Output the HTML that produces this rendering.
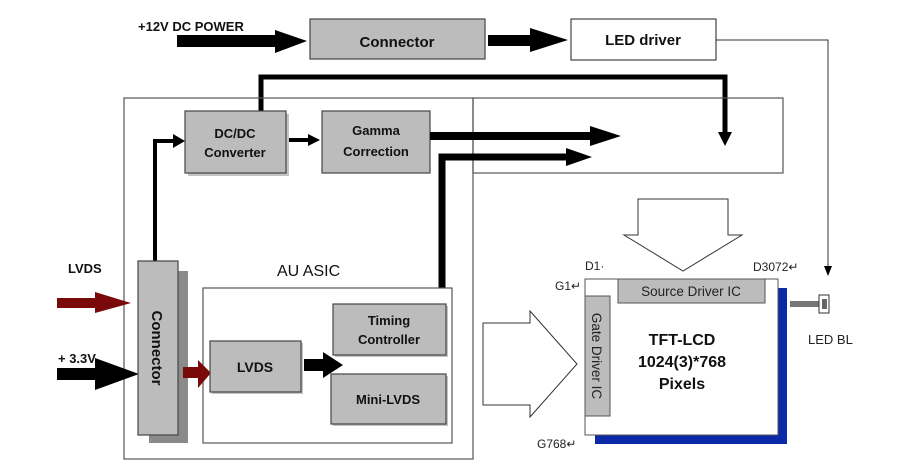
<!DOCTYPE html>
<html><head><meta charset="utf-8"><style>
html,body{margin:0;padding:0;background:#fff;}
svg{display:block;}
text{font-family:"Liberation Sans",Arial,sans-serif;}
.b{font-weight:bold;fill:#111;}
</style></head><body>
<svg width="900" height="474" viewBox="0 0 900 474" xmlns="http://www.w3.org/2000/svg">
<rect width="900" height="474" fill="#fff"/>
<!-- top row -->
<text x="138" y="31" class="b" font-size="13">+12V DC POWER</text>
<polygon points="177,35 275,35 275,30 307,41 275,53 275,47 177,47" fill="#000"/>
<rect x="310" y="19" width="175" height="40" fill="#bcbcbc" stroke="#444" stroke-width="1.2"/>
<text x="397" y="47" class="b" font-size="15" text-anchor="middle">Connector</text>
<polygon points="488,35 530,35 530,28 568,40 530,52 530,46 488,46" fill="#000"/>
<rect x="571" y="19" width="145" height="41" fill="#fff" stroke="#444" stroke-width="1.2"/>
<text x="643" y="45" class="b" font-size="15" text-anchor="middle">LED driver</text>
<polyline points="716,40 828,40 828,268" fill="none" stroke="#333" stroke-width="1"/>
<polygon points="824,266 832,266 828,276" fill="#000"/>
<!-- thick line from DC/DC -->
<polyline points="261,111 261,77 725,77 725,134" fill="none" stroke="#000" stroke-width="5"/>
<polygon points="718,132 732,132 725,146" fill="#000"/>
<!-- outer boxes -->
<rect x="124" y="98" width="349" height="361" fill="none" stroke="#555" stroke-width="1.2"/>
<rect x="473" y="98" width="310" height="75" fill="none" stroke="#555" stroke-width="1.2"/>
<!-- DC/DC -->
<rect x="188" y="114" width="101" height="62" fill="#888" opacity="0.5"/>
<rect x="185" y="111" width="101" height="62" fill="#bcbcbc" stroke="#444" stroke-width="1.2"/>
<text x="235" y="138" class="b" font-size="13" text-anchor="middle">DC/DC</text>
<text x="235" y="157" class="b" font-size="13" text-anchor="middle">Converter</text>
<rect x="322" y="111" width="108" height="62" fill="#bcbcbc" stroke="#444" stroke-width="1.2"/>
<text x="376" y="135" class="b" font-size="13" text-anchor="middle">Gamma</text>
<text x="376" y="156" class="b" font-size="13" text-anchor="middle">Correction</text>
<polygon points="289,138 308,138 308,134 320,140 308,146 308,142 289,142" fill="#000"/>
<!-- connector to DC/DC -->
<polyline points="155,261 155,141 175,141" fill="none" stroke="#000" stroke-width="4"/>
<polygon points="173,134 185,141 173,148" fill="#000"/>
<!-- gamma arrows -->
<rect x="430" y="132" width="162" height="8" fill="#000"/>
<polygon points="590,126 621,136 590,146" fill="#000"/>
<polyline points="442,288 442,157 568,157" fill="none" stroke="#000" stroke-width="7"/>
<polygon points="566,148 592,157 566,166" fill="#000"/>
<!-- left inputs -->
<text x="68" y="273" class="b" font-size="13">LVDS</text>
<polygon points="57,298 95,298 95,292 131,303 95,313 95,308 57,308" fill="#7a0a0a"/>
<text x="58" y="363" class="b" font-size="13">+ 3.3V</text>
<polygon points="57,368 95,368 95,358 139,374 95,390 95,380 57,380" fill="#000"/>
<!-- vertical connector -->
<rect x="149" y="271" width="39" height="172" fill="#8a8a8a"/>
<rect x="138" y="261" width="40" height="174" fill="#bcbcbc" stroke="#444" stroke-width="1.2"/>
<text transform="translate(152,348) rotate(90)" class="b" font-size="15" text-anchor="middle">Connector</text>
<!-- ASIC -->
<text x="277" y="276" font-size="16" fill="#111">AU ASIC</text>
<rect x="203" y="288" width="249" height="155" fill="#fff" stroke="#555" stroke-width="1.2"/>
<polygon points="183,367 198,367 198,360 211,373 198,388 198,378 183,378" fill="#7a0a0a"/>
<rect x="212" y="343" width="91" height="51" fill="#888" opacity="0.5"/>
<rect x="210" y="341" width="91" height="51" fill="#bcbcbc" stroke="#444" stroke-width="1.2"/>
<text x="255" y="372" class="b" font-size="14" text-anchor="middle">LVDS</text>
<polygon points="304,359 323,359 323,352 343,365 323,378 323,371 304,371" fill="#000"/>
<rect x="335" y="306" width="113" height="51" fill="#888" opacity="0.5"/>
<rect x="333" y="304" width="113" height="51" fill="#bcbcbc" stroke="#444" stroke-width="1.2"/>
<text x="389" y="325" class="b" font-size="13" text-anchor="middle">Timing</text>
<text x="389" y="344" class="b" font-size="13" text-anchor="middle">Controller</text>
<rect x="333" y="376" width="115" height="50" fill="#888" opacity="0.5"/>
<rect x="331" y="374" width="115" height="50" fill="#bcbcbc" stroke="#444" stroke-width="1.2"/>
<text x="388" y="404" class="b" font-size="13" text-anchor="middle">Mini-LVDS</text>
<!-- hollow arrows -->
<polygon points="483,323 530,323 530,311 577,364 530,417 530,405 483,405" fill="#fff" stroke="#333" stroke-width="1"/>
<polygon points="638,199 728,199 728,235 742,235 683,271 624,235 638,235" fill="#fff" stroke="#333" stroke-width="1"/>
<!-- panel -->
<rect x="595" y="288" width="192" height="156" fill="#0a2aa8"/>
<rect x="585" y="279" width="193" height="156" fill="#fff" stroke="#555" stroke-width="1"/>
<rect x="618" y="279" width="147" height="24" fill="#bcbcbc" stroke="#555" stroke-width="1"/>
<text x="691" y="296" font-size="13.5" fill="#222" text-anchor="middle">Source Driver IC</text>
<rect x="585" y="296" width="25" height="120" fill="#bcbcbc" stroke="#555" stroke-width="1"/>
<text transform="translate(592,356) rotate(90)" font-size="13.5" fill="#222" text-anchor="middle">Gate Driver IC</text>
<text x="682" y="345" class="b" font-size="16" text-anchor="middle">TFT-LCD</text>
<text x="682" y="367" class="b" font-size="16" text-anchor="middle">1024(3)*768</text>
<text x="682" y="389" class="b" font-size="16" text-anchor="middle">Pixels</text>
<text x="585" y="270" font-size="12" fill="#222">D1·</text>
<text x="753" y="271" font-size="12" fill="#222">D3072↵</text>
<text x="555" y="290" font-size="12" fill="#222">G1↵</text>
<text x="537" y="448" font-size="12" fill="#222">G768↵</text>
<!-- LED BL -->
<rect x="790" y="301" width="30" height="6" fill="#777"/>
<rect x="819" y="295" width="10" height="18" fill="#fff" stroke="#333" stroke-width="1"/>
<rect x="822" y="299" width="5" height="10" fill="#666"/>
<text x="808" y="344" font-size="13" fill="#222">LED BL</text>
</svg>
</body></html>
